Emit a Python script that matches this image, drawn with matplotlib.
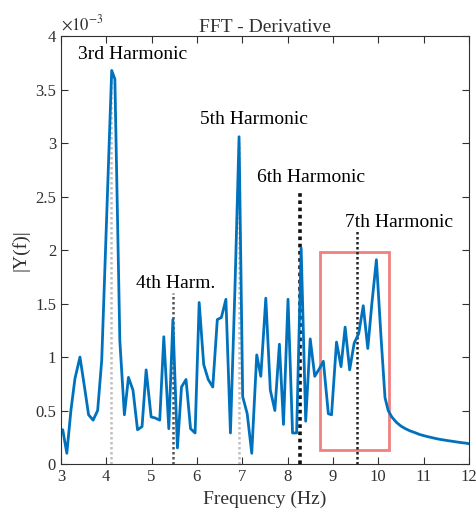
import matplotlib.pyplot as plt
import numpy as np
from matplotlib.ticker import FuncFormatter
from matplotlib.patches import Rectangle

plt.rcParams['font.family'] = ['Liberation Serif', 'DejaVu Serif']
plt.rcParams['mathtext.fontset'] = 'stix'

# spectrum (amplitude in units of 1e-3)
freq = [3.00, 3.04, 3.13, 3.22, 3.31, 3.42, 3.52, 3.61, 3.71, 3.81, 3.90, 4.00, 4.12, 4.19,
        4.30, 4.40, 4.49, 4.59, 4.69, 4.79, 4.88, 4.99, 5.08, 5.18, 5.27, 5.38, 5.47, 5.57,
        5.66, 5.76, 5.86, 5.96, 6.05, 6.15, 6.25, 6.35, 6.45, 6.54, 6.64, 6.74, 6.84, 6.93,
        7.01, 7.11, 7.21, 7.32, 7.41, 7.52, 7.62, 7.72, 7.82, 7.91, 8.01, 8.11, 8.20, 8.30,
        8.40, 8.50, 8.60, 8.70, 8.79, 8.90, 8.97, 9.08, 9.18, 9.27, 9.37, 9.47, 9.57, 9.67,
        9.77, 9.86, 9.96, 10.06, 10.15, 10.22, 10.30, 10.40, 10.50, 10.60, 10.70, 10.80,
        10.92, 11.05, 11.15, 11.25, 11.34, 11.44, 11.54, 11.64, 11.73, 11.83, 11.93, 12.00]
amp = [0.32, 0.32, 0.10, 0.50, 0.80, 1.00, 0.72, 0.46, 0.41, 0.50, 0.97, 2.20, 3.68, 3.60,
       1.15, 0.46, 0.81, 0.69, 0.32, 0.35, 0.88, 0.44, 0.43, 0.41, 1.19, 0.33, 1.35, 0.15,
       0.72, 0.79, 0.33, 0.29, 1.51, 0.93, 0.79, 0.72, 1.35, 1.37, 1.54, 0.29, 1.65, 3.06,
       0.63, 0.47, 0.10, 1.02, 0.82, 1.55, 0.69, 0.50, 1.12, 0.37, 1.54, 0.29, 0.29, 2.02,
       0.40, 1.17, 0.82, 0.89, 0.96, 0.47, 0.46, 1.14, 0.91, 1.28, 0.88, 1.13, 1.22, 1.48,
       1.08, 1.50, 1.91, 1.20, 0.62, 0.50, 0.44, 0.39, 0.355, 0.33, 0.31, 0.295,
       0.275, 0.26, 0.25, 0.24, 0.232, 0.225, 0.218, 0.212, 0.206, 0.200, 0.195, 0.19]

# harmonic markers: position, top (1e-3), colour, width
harm_x = [4.10, 5.47, 6.93, 8.28, 9.53]
harm_top = [3.65, 1.60, 3.00, 2.55, 2.19]
harm_col = ['#c0c0c0', '#555555', '#c0c0c0', '#111111', '#222222']
harm_lw = [1.8, 1.8, 1.8, 2.6, 1.8]

labels = ['3rd Harmonic', '4th Harm.', '5th Harmonic', '6th Harmonic', '7th Harmonic']
lab_x = [4.59, 5.53, 7.26, 8.51, 10.45]
lab_y = [3.83, 1.69, 3.22, 2.68, 2.26]

scale = 1e-3
fig = plt.figure(figsize=(4.76, 5.16), dpi=100)
ax = fig.add_axes([0.128, 0.1008, 0.857, 0.829])

for x, top, c, w in zip(harm_x, harm_top, harm_col, harm_lw):
    ax.plot([x, x], [0, top * scale], color=c, linestyle=(0, (1, 1)), linewidth=w)

ax.plot(freq, np.array(amp) * scale, color='#0072BD', linewidth=2)

ax.add_patch(Rectangle((8.71, 0.13 * scale), 10.24 - 8.71, (1.98 - 0.13) * scale,
                       fill=False, edgecolor='#f08080', linewidth=2))

for t, x, y in zip(labels, lab_x, lab_y):
    ax.text(x, y * scale, t, ha='center', va='center', fontsize=14, color='black')

ax.set_xlim(3, 12)
ax.set_ylim(0, 4 * scale)
ax.set_xticks(np.arange(3, 13, 1))
ax.set_yticks(np.arange(0, 4.01, 0.5) * scale)
ax.yaxis.set_major_formatter(FuncFormatter(lambda v, p: '%g' % round(v / scale, 3)))
ax.tick_params(direction='in', top=True, right=True, labelsize=12, colors='#303030', length=5)
for s in ax.spines.values():
    s.set_color('#303030')
ax.text(0.0, 1.005, r'$\times10^{-3}$', transform=ax.transAxes, fontsize=12,
        color='#303030', va='bottom', ha='left')

ax.set_xlabel('Frequency (Hz)', fontsize=14, color='#303030')
ax.set_ylabel('|Y(f)|', fontsize=14, color='#303030')
ax.set_title('FFT - Derivative', fontsize=14, color='#303030', pad=3)

plt.savefig('out.png', dpi=100)
